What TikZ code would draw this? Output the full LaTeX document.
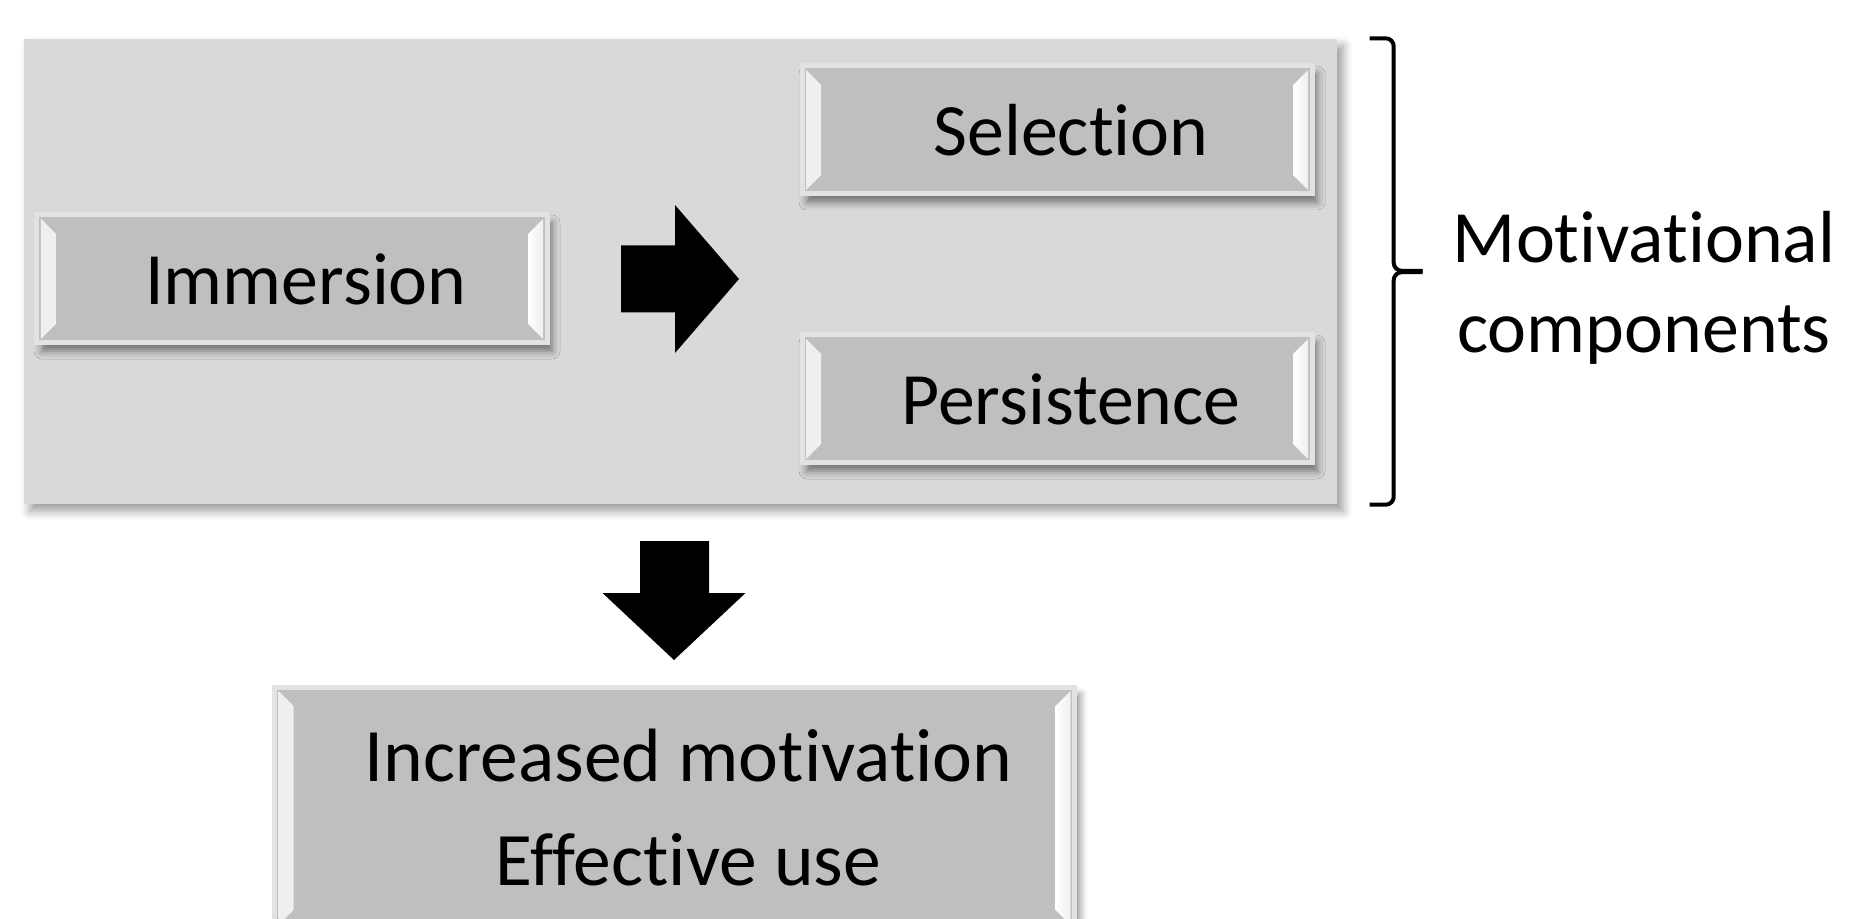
\documentclass[tikz,border=0pt]{standalone}
\usepackage{fontspec}
\setmainfont[Ligatures=NoCommon]{Carlito}
\usetikzlibrary{shadows.blur}

\definecolor{panelgray}{HTML}{D9D9D9}
\definecolor{boxgray}{HTML}{BFBFBF}
\definecolor{rimgray}{HTML}{E2E2E2}

\newcommand{\padtext}{\hspace*{2.8mm}}

\tikzset{
  softshadow/.style={blur shadow={shadow xshift=0.5mm, shadow yshift=-0.8mm,
      shadow blur radius=0.8mm, shadow opacity=50}},
  bevelbox/.style={rectangle, fill=boxgray, draw=rimgray, line width=0.5mm,
    minimum width=51mm, minimum height=12.8mm, softshadow,
    font=\fontsize{21}{25}\selectfont,
    path picture={
      \shade [left color=white!75!boxgray, right color=white]
        ([xshift=0.4mm,yshift=-0.4mm]path picture bounding box.north west) -- ++(1.5mm,-1.5mm)
        -- ([xshift=1.9mm,yshift=1.9mm]path picture bounding box.south west)
        -- ([xshift=0.4mm,yshift=0.4mm]path picture bounding box.south west) -- cycle;
      \shade [left color=white, right color=white!75!boxgray]
        ([xshift=-0.4mm,yshift=-0.4mm]path picture bounding box.north east) -- ++(-1.5mm,-1.5mm)
        -- ([xshift=-1.9mm,yshift=1.9mm]path picture bounding box.south east)
        -- ([xshift=-0.4mm,yshift=0.4mm]path picture bounding box.south east) -- cycle;
    }},
  panelbox/.style={rectangle, fill=panelgray, minimum width=131.3mm, minimum height=46.5mm,
    blur shadow={shadow xshift=0.6mm, shadow yshift=-0.7mm, shadow blur radius=0.9mm, shadow opacity=40}},
}

\begin{document}
\begin{tikzpicture}[x=1mm,y=1mm]
        \tikzstyle{every node}+=[inner sep=0pt]
        \useasboundingbox (0,0) rectangle (185.8,-91.9);
        \node (panel) [panelbox] at (68.05,-27.15) {};
        \node (immersion) [bevelbox] at (29.2,-27.9) {\padtext Immersion};
        \node (selection) [bevelbox] at (105.7,-13.0) {\padtext Selection};
        \node (persistence) [bevelbox] at (105.7,-39.9) {\padtext Persistence};
        \node (outcome) [bevelbox, minimum width=80mm, minimum height=24.2mm, align=center,
          font=\fontsize{21.5}{29.6}\selectfont] at (67.45,-80.8)
          {\padtext Increased motivation\\\padtext Effective use};
        % block arrows
        \fill [black] (62.1,-24.55) -- (67.5,-24.55) -- (67.5,-20.5) -- (73.9,-27.9)
          -- (67.5,-35.3) -- (67.5,-31.25) -- (62.1,-31.25) -- cycle;
        \fill [black] (64.0,-54.1) -- (70.9,-54.1) -- (70.9,-59.3) -- (74.55,-59.3)
          -- (67.4,-66.0) -- (60.25,-59.3) -- (64.0,-59.3) -- cycle;
        % bracket
        \draw [black, line width=0.4mm, rounded corners=0.8mm] ([xshift=3.2mm]panel.north east)
          -- ++(2.4,0) -- ++(0,-23.25) -- ++(2.9,0);
        \draw [black, line width=0.4mm, rounded corners=0.8mm] ([xshift=3.2mm]panel.south east)
          -- ++(2.4,0) -- ++(0,23.25) -- ++(2.9,0);
        \node (motlabel) [align=center, font=\fontsize{21}{25.6}\selectfont] at (164.4,-28.75) {Motivational\\components};
\end{tikzpicture}
\end{document}
